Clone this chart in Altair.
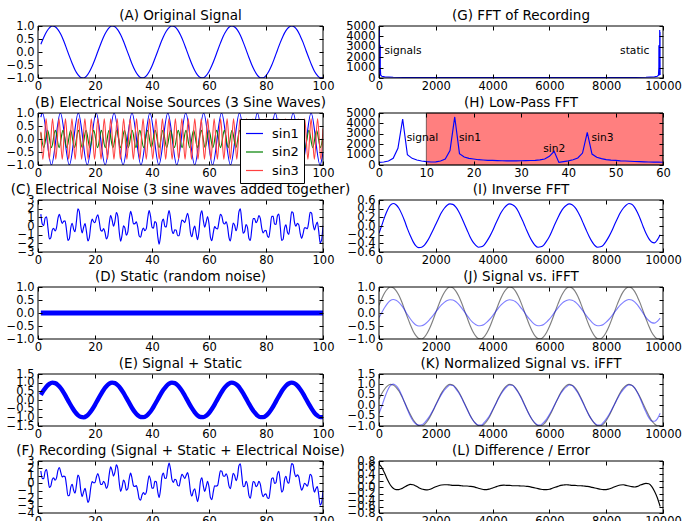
import altair as alt
import pandas as pd

FONT = "DejaVu Sans"
PANEL_H = 52

# ---------------------------------------------------------------- (A) signal
# one sample per x unit, x = 1 .. 100
sig_x = list(range(1, 101))
signal = [0.30, 0.56, 0.78, 0.93, 1.00, 0.97, 0.86, 0.68, 0.43, 0.14,
          -0.16, -0.44, -0.69, -0.87, -0.98, -1.00, -0.93, -0.77, -0.55, -0.28,
          0.02, 0.31, 0.58, 0.79, 0.94, 1.00, 0.97, 0.85, 0.66, 0.41,
          0.12, -0.17, -0.46, -0.70, -0.88, -0.98, -0.99, -0.92, -0.76, -0.54,
          -0.26, 0.03, 0.33, 0.59, 0.80, 0.94, 1.00, 0.97, 0.85, 0.65,
          0.40, 0.11, -0.19, -0.47, -0.71, -0.89, -0.98, -0.99, -0.91, -0.75,
          -0.52, -0.25, 0.05, 0.34, 0.61, 0.81, 0.95, 1.00, 0.96, 0.84,
          0.64, 0.38, 0.09, -0.21, -0.49, -0.72, -0.90, -0.99, -0.99, -0.91,
          -0.74, -0.51, -0.23, 0.07, 0.36, 0.62, 0.82, 0.95, 1.00, 0.96,
          0.83, 0.62, 0.37, 0.07, -0.22, -0.50, -0.74, -0.90, -0.99, -0.99]

# the same samples on the FFT sample-index axis (100 indices apart)
idx = list(range(0, 9901, 100))

# ------------------------------------------------ (B) the three noise sources
# start point, every crest and trough, end point
sin1_x = [1.00, 1.57, 4.71, 7.85, 11.00, 14.14, 17.28, 20.42, 23.56, 26.70,
          29.85, 32.99, 36.13, 39.27, 42.41, 45.55, 48.69, 51.84, 54.98, 58.12,
          61.26, 64.40, 67.54, 70.69, 73.83, 76.97, 80.11, 83.25, 86.39, 89.54,
          92.68, 95.82, 98.96, 100.00]
sin1_y = [0.84, 1.0, -1.0, 1.0, -1.0, 1.0, -1.0, 1.0, -1.0, 1.0,
          -1.0, 1.0, -1.0, 1.0, -1.0, 1.0, -1.0, 1.0, -1.0, 1.0,
          -1.0, 1.0, -1.0, 1.0, -1.0, 1.0, -1.0, 1.0, -1.0, 1.0,
          -1.0, 1.0, -1.0, -0.51]

sin2_x = [1.00, 2.02, 3.37, 4.72, 6.07, 7.42, 8.76, 10.11, 11.46, 12.81,
          14.16, 15.51, 16.85, 18.20, 19.55, 20.90, 22.25, 23.60, 24.94, 26.29,
          27.64, 28.99, 30.34, 31.69, 33.03, 34.38, 35.73, 37.08, 38.43, 39.78,
          41.12, 42.47, 43.82, 45.17, 46.52, 47.87, 49.21, 50.56, 51.91, 53.26,
          54.61, 55.96, 57.30, 58.65, 60.00, 61.35, 62.70, 64.05, 65.39, 66.74,
          68.09, 69.44, 70.79, 72.14, 73.48, 74.83, 76.18, 77.53, 78.88, 80.23,
          81.57, 82.92, 84.27, 85.62, 86.97, 88.32, 89.66, 91.01, 92.36, 93.71,
          95.06, 96.41, 97.75, 99.10, 100.00]
sin2_y = [0.24, -0.33, 0.33, -0.33, 0.33, -0.33, 0.33, -0.33, 0.33, -0.33,
          0.33, -0.33, 0.33, -0.33, 0.33, -0.33, 0.33, -0.33, 0.33, -0.33,
          0.33, -0.33, 0.33, -0.33, 0.33, -0.33, 0.33, -0.33, 0.33, -0.33,
          0.33, -0.33, 0.33, -0.33, 0.33, -0.33, 0.33, -0.33, 0.33, -0.33,
          0.33, -0.33, 0.33, -0.33, 0.33, -0.33, 0.33, -0.33, 0.33, -0.33,
          0.33, -0.33, 0.33, -0.33, 0.33, -0.33, 0.33, -0.33, 0.33, -0.33,
          0.33, -0.33, 0.33, -0.33, 0.33, -0.33, 0.33, -0.33, 0.33, -0.33,
          0.33, -0.33, 0.33, -0.33, 0.17]

sin3_x = [1.00, 1.70, 2.84, 3.97, 5.10, 6.24, 7.37, 8.51, 9.64, 10.77,
          11.91, 13.04, 14.18, 15.31, 16.45, 17.58, 18.71, 19.85, 20.98, 22.12,
          23.25, 24.38, 25.52, 26.65, 27.79, 28.92, 30.05, 31.19, 32.32, 33.46,
          34.59, 35.73, 36.86, 37.99, 39.13, 40.26, 41.40, 42.53, 43.66, 44.80,
          45.93, 47.07, 48.20, 49.34, 50.47, 51.60, 52.74, 53.87, 55.01, 56.14,
          57.27, 58.41, 59.54, 60.68, 61.81, 62.94, 64.08, 65.21, 66.35, 67.48,
          68.62, 69.75, 70.88, 72.02, 73.15, 74.29, 75.42, 76.55, 77.69, 78.82,
          79.96, 81.09, 82.23, 83.36, 84.49, 85.63, 86.76, 87.90, 89.03, 90.16,
          91.30, 92.43, 93.57, 94.70, 95.83, 96.97, 98.10, 99.24, 100.00]
sin3_y = [0.28, -0.78, 0.78, -0.78, 0.78, -0.78, 0.78, -0.78, 0.78, -0.78,
          0.78, -0.78, 0.78, -0.78, 0.78, -0.78, 0.78, -0.78, 0.78, -0.78,
          0.78, -0.78, 0.78, -0.78, 0.78, -0.78, 0.78, -0.78, 0.78, -0.78,
          0.78, -0.78, 0.78, -0.78, 0.78, -0.78, 0.78, -0.78, 0.78, -0.78,
          0.78, -0.78, 0.78, -0.78, 0.78, -0.78, 0.78, -0.78, 0.78, -0.78,
          0.78, -0.78, 0.78, -0.78, 0.78, -0.78, 0.78, -0.78, 0.78, -0.78,
          0.78, -0.78, 0.78, -0.78, 0.78, -0.78, 0.78, -0.78, 0.78, -0.78,
          0.78, -0.78, 0.78, -0.78, 0.78, -0.78, 0.78, -0.78, 0.78, -0.78,
          0.78, -0.78, 0.78, -0.78, 0.78, -0.78, 0.78, -0.78, 0.40]

# --------------------------------- (C) noise sum and (F) recording, step 0.5
half_x = [1 + 0.5 * n for n in range(199)]
noise = [1.37, 0.22, 0.05, 0.92, 1.06, -0.24, -1.50, -1.35, -0.48, -0.27,
         -0.57, -0.19, 0.87, 1.34, 0.79, 0.29, 0.54, 0.60, -0.44, -1.65,
         -1.47, -0.21, 0.32, -0.37, -0.65, 0.58, 1.99, 1.65, 0.02, -0.80,
         -0.17, 0.28, -0.62, -1.71, -1.36, 0.05, 0.79, 0.49, 0.37, 0.98,
         1.29, 0.52, -0.47, -0.59, -0.31, -0.73, -1.48, -1.16, 0.30, 1.23,
         0.69, -0.03, 0.54, 1.56, 1.14, -0.67, -1.76, -1.04, 0.02, -0.23,
         -1.07, -0.72, 0.79, 1.68, 1.10, 0.25, 0.27, 0.49, -0.14, -1.15,
         -1.29, -0.58, -0.25, -0.54, -0.30, 0.92, 1.77, 1.11, -0.13, -0.24,
         0.51, 0.35, -1.15, -2.10, -1.15, 0.48, 0.79, -0.03, -0.12, 1.04,
         1.79, 0.92, -0.50, -0.87, -0.43, -0.49, -1.13, -1.13, -0.14, 0.68,
         0.58, 0.39, 0.96, 1.47, 0.70, -0.77, -1.24, -0.44, -0.02, -0.87,
         -1.57, -0.57, 1.25, 1.74, 0.65, -0.14, 0.46, 1.09, 0.26, -1.28,
         -1.68, -0.78, -0.08, -0.28, -0.35, 0.50, 1.35, 1.14, 0.38, 0.23,
         0.47, -0.07, -1.31, -1.71, -0.68, 0.35, 0.09, -0.55, 0.09, 1.62,
         1.98, 0.55, -0.84, -0.64, 0.17, -0.17, -1.41, -1.67, -0.39, 0.86,
         0.85, 0.37, 0.63, 1.20, 0.87, -0.23, -0.81, -0.55, -0.51, -1.14,
         -1.31, -0.18, 1.13, 1.11, 0.22, 0.18, 1.16, 1.38, -0.09, -1.67,
         -1.53, -0.26, 0.13, -0.69, -0.96, 0.29, 1.64, 1.52, 0.43, -0.02,
         0.30, 0.14, -0.84, -1.43, -0.92, -0.21, -0.22, -0.32, 0.49, 1.59,
         1.49, 0.25, -0.46, 0.09, 0.45, -0.60, -1.94, -1.64, 0.06]
recording = [1.66, 0.66, 0.62, 1.60, 1.84, 0.63, -0.56, -0.37, 0.52, 0.73,
             0.41, 0.74, 1.73, 2.12, 1.47, 0.85, 0.97, 0.88, -0.30, -1.66,
             -1.63, -0.52, -0.13, -0.94, -1.34, -0.21, 1.12, 0.72, -0.96, -1.80,
             -1.16, -0.69, -1.55, -2.57, -2.13, -0.62, 0.24, 0.07, 0.09, 0.85,
             1.31, 0.69, -0.16, -0.14, 0.27, -0.03, -0.69, -0.28, 1.24, 2.21,
             1.69, 0.97, 1.51, 2.48, 1.99, 0.10, -1.09, -0.50, 0.43, 0.05,
             -0.94, -0.75, 0.62, 1.36, 0.64, -0.33, -0.43, -0.31, -1.02, -2.09,
             -2.27, -1.58, -1.25, -1.51, -1.22, 0.07, 1.01, 0.45, -0.66, -0.65,
             0.25, 0.23, -1.11, -1.92, -0.82, 0.94, 1.38, 0.67, 0.69, 1.93,
             2.73, 1.90, 0.50, 0.13, 0.54, 0.43, -0.28, -0.37, 0.51, 1.21,
             0.97, 0.65, 1.07, 1.43, 0.51, -1.11, -1.71, -1.03, -0.73, -1.68,
             -2.46, -1.52, 0.27, 0.74, -0.35, -1.10, -0.45, 0.25, -0.49, -1.92,
             -2.20, -1.17, -0.33, -0.38, -0.30, 0.69, 1.69, 1.62, 0.99, 0.95,
             1.28, 0.82, -0.36, -0.73, 0.32, 1.35, 1.05, 0.36, 0.93, 2.37,
             2.62, 1.07, -0.46, -0.41, 0.27, -0.23, -1.62, -2.02, -0.88, 0.24,
             0.12, -0.45, -0.26, 0.25, -0.12, -1.23, -1.80, -1.51, -1.42, -1.97,
             -2.05, -0.82, 0.62, 0.74, -0.01, 0.09, 1.23, 1.60, 0.27, -1.18,
             -0.92, 0.47, 0.95, 0.21, 0.00, 1.27, 2.64, 2.51, 1.39, 0.88,
             1.13, 0.87, -0.21, -0.93, -0.56, 0.01, -0.15, -0.40, 0.26, 1.22,
             0.99, -0.38, -1.19, -0.74, -0.45, -1.55, -2.93, -2.64, -0.93]

# ------------------------------------------------- (D) static: a +-0.1 band
static_from, static_to = 1, 100
static_lo, static_hi = -0.1, 0.1

# ------------------------------------------------------ (G) full FFT magnitude
g_bin = [0, 4, 5, 6, 15, 16, 17, 36, 37, 38, 43, 44, 45, 60, 100, 200, 500,
         1000, 2500, 4950, 7400, 8900, 9400, 9700, 9800, 9840, 9855, 9856,
         9857, 9862, 9863, 9864, 9883, 9884, 9885, 9894, 9895, 9896, 9899]
g_mag = [250, 1600, 4420, 990, 1380, 4620, 1090, 830, 1310, 250, 1150, 3140,
         1050, 260, 170, 110, 70, 50, 40, 35, 40, 50, 70, 110, 170, 260, 1050,
         3140, 1150, 250, 1310, 830, 1090, 4620, 1380, 990, 4420, 1600, 290]
g_notes = ["signals", "static"]
g_note_x = [190, 8490]
g_note_y = [2550, 2550]

# ------------------------------------------------ (H) first 60 FFT bins
h_bin = list(range(61))
h_mag = [250, 290, 380, 640, 1600, 4420, 990, 640, 480, 385,
         320, 290, 300, 380, 580, 1380, 4620, 1090, 770, 640,
         580, 510, 480, 450, 440, 420, 410, 400, 400, 400,
         410, 420, 430, 450, 490, 580, 830, 1310, 250, 320,
         400, 510, 680, 1150, 3140, 1050, 740, 610, 520, 470,
         440, 400, 380, 360, 340, 320, 300, 290, 280, 270,
         260]
cut_lo, cut_hi = 10, 60
h_notes = ["signal", "sin1", "sin2", "sin3"]
h_note_x = [5.85, 16.9, 34.7, 44.9]
h_note_y = [2600, 2600, 1540, 2600]

# ------------------------------------------------ (I) inverse FFT (real part)
ifft = [-0.17, 0.02, 0.21, 0.37, 0.48, 0.52, 0.49, 0.41, 0.28, 0.12,
        -0.06, -0.22, -0.36, -0.46, -0.50, -0.49, -0.44, -0.35, -0.23, -0.10,
        0.04, 0.18, 0.31, 0.41, 0.48, 0.51, 0.50, 0.44, 0.34, 0.21,
        0.06, -0.09, -0.24, -0.36, -0.44, -0.49, -0.48, -0.44, -0.35, -0.24,
        -0.11, 0.04, 0.18, 0.31, 0.41, 0.48, 0.51, 0.49, 0.44, 0.34,
        0.20, 0.06, -0.10, -0.24, -0.36, -0.45, -0.49, -0.48, -0.44, -0.35,
        -0.24, -0.10, 0.05, 0.19, 0.32, 0.42, 0.48, 0.51, 0.49, 0.43,
        0.33, 0.20, 0.05, -0.10, -0.24, -0.36, -0.45, -0.49, -0.48, -0.44,
        -0.35, -0.24, -0.11, 0.04, 0.18, 0.31, 0.41, 0.48, 0.52, 0.50,
        0.43, 0.31, 0.16, -0.01, -0.17, -0.29, -0.37, -0.39, -0.32, -0.20]

# ------------------------------------------------ (K) normalized inverse FFT
ifft_norm = [-0.40, -0.04, 0.36, 0.71, 0.94, 1.01, 0.94, 0.76, 0.48, 0.14,
             -0.21, -0.52, -0.76, -0.90, -0.96, -0.94, -0.85, -0.68, -0.48, -0.25,
             0.01, 0.27, 0.52, 0.72, 0.87, 0.97, 0.95, 0.80, 0.61, 0.37,
             0.09, -0.20, -0.48, -0.71, -0.87, -0.96, -0.96, -0.84, -0.68, -0.48,
             -0.23, 0.03, 0.30, 0.54, 0.74, 0.89, 0.97, 0.96, 0.81, 0.61,
             0.37, 0.08, -0.21, -0.48, -0.70, -0.86, -0.96, -0.95, -0.83, -0.67,
             -0.45, -0.21, 0.06, 0.32, 0.56, 0.75, 0.88, 0.97, 0.95, 0.79,
             0.60, 0.34, 0.06, -0.23, -0.50, -0.71, -0.87, -0.96, -0.95, -0.83,
             -0.66, -0.45, -0.20, 0.06, 0.32, 0.56, 0.75, 0.90, 0.98, 0.96,
             0.83, 0.60, 0.31, -0.02, -0.33, -0.60, -0.76, -0.77, -0.66, -0.39]

# ------------------------------------------------ (L) signal minus iFFT
error = [0.70, 0.60, 0.42, 0.22, 0.06, -0.04, -0.08, -0.08, -0.05, 0.00,
         0.05, 0.08, 0.07, 0.03, -0.02, -0.06, -0.08, -0.09, -0.07, -0.03,
         0.01, 0.04, 0.06, 0.07, 0.07, 0.06, 0.05, 0.05, 0.05, 0.04,
         0.03, 0.03, 0.02, 0.01, -0.01, -0.04, -0.06, -0.08, -0.08, -0.06,
         -0.03, 0.00, 0.03, 0.05, 0.06, 0.05, 0.05, 0.04, 0.04, 0.04,
         0.03, 0.03, 0.02, 0.01, -0.01, -0.03, -0.05, -0.07, -0.08, -0.08,
         -0.07, -0.04, -0.01, 0.02, 0.05, 0.06, 0.07, 0.06, 0.05, 0.05,
         0.04, 0.04, 0.03, 0.02, 0.01, -0.01, -0.03, -0.05, -0.07, -0.08,
         -0.08, -0.06, -0.03, 0.01, 0.04, 0.06, 0.07, 0.05, 0.03, 0.01,
         0.00, 0.02, 0.06, 0.09, 0.11, 0.10, 0.02, -0.13, -0.33, -0.60]

# ----------------------------------------------------------- axis settings
X_TIME = [0, 100]
X_TIME_TICKS = [0, 20, 40, 60, 80, 100]
X_IDX = [0, 10000]
X_IDX_TICKS = [0, 2000, 4000, 6000, 8000, 10000]
UNIT_TICKS = [-1.0, -0.5, 0.0, 0.5, 1.0]


def sc(dom):
    return alt.Scale(domain=dom, nice=False, zero=False)


def xy(xdom, ydom, xf="x", yf="y"):
    return dict(x=alt.X(f"{xf}:Q", scale=sc(xdom), axis=None),
                y=alt.Y(f"{yf}:Q", scale=sc(ydom), axis=None))


# ticks point into the plot: the axis sits 4px inside and its ticks reach the edge
TICK = dict(domain=False, grid=False, title=None, offset=-4, tickSize=4,
            tickColor="black", tickWidth=1, zindex=1)


def guides(xdom, ydom, xvals, yvals, xfmt, yfmt):
    corner = pd.DataFrame({"x": [xdom[0]], "y": [ydom[0]]})
    main = alt.Chart(corner).mark_point(opacity=0).encode(
        x=alt.X("x:Q", scale=sc(xdom),
                axis=alt.Axis(orient="bottom", values=xvals, format=xfmt,
                              labelPadding=2, **TICK)),
        y=alt.Y("y:Q", scale=sc(ydom),
                axis=alt.Axis(orient="left", values=yvals, format=yfmt,
                              labelPadding=4, **TICK)))
    mirror = alt.Chart(corner).mark_point(opacity=0).encode(
        x=alt.X("x:Q", scale=sc(xdom),
                axis=alt.Axis(orient="top", values=xvals, labels=False, **TICK)),
        y=alt.Y("y:Q", scale=sc(ydom),
                axis=alt.Axis(orient="right", values=yvals, labels=False, **TICK)))
    return [main, mirror]


def frame():
    return alt.Chart(pd.DataFrame({"k": [0]})).mark_rect(
        fillOpacity=0, stroke="black", strokeWidth=1
    ).encode(x=alt.value(0), x2=alt.value("width"),
             y=alt.value(0), y2=alt.value("height"))


def line(xs, ys, xdom, ydom, color="#0000ff", width=1.15, opacity=1.0,
         interp="monotone"):
    df = pd.DataFrame({"x": xs, "y": ys})
    return alt.Chart(df).mark_line(
        color=color, strokeWidth=width, opacity=opacity,
        interpolate=interp, clip=True
    ).encode(**xy(xdom, ydom))


def notes(labels, xs, ys, xdom, ydom):
    df = pd.DataFrame({"x": xs, "y": ys, "label": labels})
    return alt.Chart(df).mark_text(
        align="left", baseline="middle", font=FONT, fontSize=10.7, color="black"
    ).encode(text="label:N", **xy(xdom, ydom))


def panel(title, width, xdom, ydom, xvals, yvals, xfmt, yfmt, layers):
    return alt.layer(
        *guides(xdom, ydom, xvals, yvals, xfmt, yfmt), *layers, frame()
    ).resolve_axis(x="independent", y="independent").properties(
        width=width, height=PANEL_H, title=title)


LW, RW = 285, 284

# ------------------------------------------------------------------- panels
pA = panel("(A) Original Signal", LW, X_TIME, [-1, 1], X_TIME_TICKS,
           UNIT_TICKS, "d", ".1f",
           [line(sig_x, signal, X_TIME, [-1, 1])])

waves = pd.concat([
    pd.DataFrame({"x": sin1_x, "y": sin1_y, "wave": "sin1"}),
    pd.DataFrame({"x": sin2_x, "y": sin2_y, "wave": "sin2"}),
    pd.DataFrame({"x": sin3_x, "y": sin3_y, "wave": "sin3"}),
])
# the legend is shared by the whole grid, so it is placed from the grid origin
b_lines = alt.Chart(waves).mark_line(
    strokeWidth=1.15, interpolate="monotone", clip=True
).encode(
    color=alt.Color(
        "wave:N",
        scale=alt.Scale(domain=["sin1", "sin2", "sin3"],
                        range=["#0000ff", "#008000", "#ff4040"]),
        legend=alt.Legend(orient="none", legendX=202, legendY=93, title=None,
                          symbolType="stroke", symbolSize=289,
                          symbolStrokeWidth=1.2, labelFont=FONT,
                          labelFontSize=13, labelColor="black", labelOffset=8,
                          padding=5, rowPadding=1.5, strokeColor="black",
                          fillColor="white", cornerRadius=0, zindex=2)),
    **xy(X_TIME, [-1, 1]))
pB = panel("(B) Electrical Noise Sources (3 Sine Waves)", LW, X_TIME, [-1, 1],
           X_TIME_TICKS, UNIT_TICKS, "d", ".1f", [b_lines])

pC = panel("(C) Electrical Noise (3 sine waves added together)", LW, X_TIME,
           [-3, 3], X_TIME_TICKS, [-3, -2, -1, 0, 1, 2, 3], "d", "d",
           [line(half_x, noise, X_TIME, [-3, 3])])

static_df = pd.DataFrame({"x0": [static_from], "x1": [static_to],
                          "lo": [static_lo], "hi": [static_hi]})
d_band = alt.Chart(static_df).mark_rect(color="#0000ff", clip=True).encode(
    x=alt.X("x0:Q", scale=sc(X_TIME), axis=None), x2="x1:Q",
    y=alt.Y("lo:Q", scale=sc([-1, 1]), axis=None), y2="hi:Q")
pD = panel("(D) Static (random noise)", LW, X_TIME, [-1, 1], X_TIME_TICKS,
           UNIT_TICKS, "d", ".1f", [d_band])

pE = panel("(E) Signal + Static", LW, X_TIME, [-1.5, 1.5], X_TIME_TICKS,
           [-1.5, -1.0, -0.5, 0.0, 0.5, 1.0, 1.5], "d", ".1f",
           [line(sig_x, signal, X_TIME, [-1.5, 1.5], width=4.4)])

pF = panel("(F) Recording (Signal + Static + Electrical Noise)", LW, X_TIME,
           [-4, 3], X_TIME_TICKS, [-4, -3, -2, -1, 0, 1, 2, 3], "d", "d",
           [line(half_x, recording, X_TIME, [-4, 3])])

pG = panel("(G) FFT of Recording", RW, X_IDX, [0, 5000], X_IDX_TICKS,
           [0, 1000, 2000, 3000, 4000, 5000], "d", "d",
           [line(g_bin, g_mag, X_IDX, [0, 5000], interp="linear"),
            notes(g_notes, g_note_x, g_note_y, X_IDX, [0, 5000])])

span_df = pd.DataFrame({"x0": [cut_lo], "x1": [cut_hi], "lo": [0], "hi": [5000]})
h_span = alt.Chart(span_df).mark_rect(
    fill="#ff0000", fillOpacity=0.5, stroke="#000000", strokeOpacity=0.5,
    strokeWidth=1
).encode(x=alt.X("x0:Q", scale=sc([0, 60]), axis=None), x2="x1:Q",
         y=alt.Y("lo:Q", scale=sc([0, 5000]), axis=None), y2="hi:Q")
pH = panel("(H) Low-Pass FFT", RW, [0, 60], [0, 5000],
           [0, 10, 20, 30, 40, 50, 60], [0, 1000, 2000, 3000, 4000, 5000],
           "d", "d",
           [h_span, line(h_bin, h_mag, [0, 60], [0, 5000], interp="linear"),
            notes(h_notes, h_note_x, h_note_y, [0, 60], [0, 5000])])

pI = panel("(I) Inverse FFT", RW, X_IDX, [-0.6, 0.6], X_IDX_TICKS,
           [-0.6, -0.4, -0.2, 0.0, 0.2, 0.4, 0.6], "d", ".1f",
           [line(idx, ifft, X_IDX, [-0.6, 0.6])])

pJ = panel("(J) Signal vs. iFFT", RW, X_IDX, [-1, 1], X_IDX_TICKS,
           UNIT_TICKS, "d", ".1f",
           [line(idx, signal, X_IDX, [-1, 1], color="#000000", opacity=0.5),
            line(idx, ifft, X_IDX, [-1, 1], opacity=0.5)])

pK = panel("(K) Normalized Signal vs. iFFT", RW, X_IDX, [-1, 1.5],
           X_IDX_TICKS, [-1.0, -0.5, 0.0, 0.5, 1.0, 1.5], "d", ".1f",
           [line(idx, signal, X_IDX, [-1, 1.5], color="#000000", opacity=0.5),
            line(idx, ifft_norm, X_IDX, [-1, 1.5], opacity=0.5)])

pL = panel("(L) Difference / Error", RW, X_IDX, [-0.8, 0.8], X_IDX_TICKS,
           [-0.8, -0.6, -0.4, -0.2, 0.0, 0.2, 0.4, 0.6, 0.8], "d", ".1f",
           [line(idx, error, X_IDX, [-0.8, 0.8], color="#000000")])

chart = alt.concat(
    pA, pG, pB, pH, pC, pI, pD, pJ, pE, pK, pF, pL,
    columns=2, spacing={"row": 35, "column": 56}, bounds="flush"
).properties(
    padding={"left": 6, "top": 8, "right": 0, "bottom": 0}
).configure(
    font=FONT
).configure_view(
    strokeWidth=0
).configure_axis(
    labelFont=FONT, labelFontSize=11.5, labelColor="black",
    labelFlush=False, labelOverlap=False
).configure_title(
    font=FONT, fontSize=13.5, fontWeight="normal", color="black",
    anchor="middle", offset=-2, baseline="alphabetic", frame="group"
)

chart.save("out.html", embed_options={"renderer": "svg", "actions": False})
